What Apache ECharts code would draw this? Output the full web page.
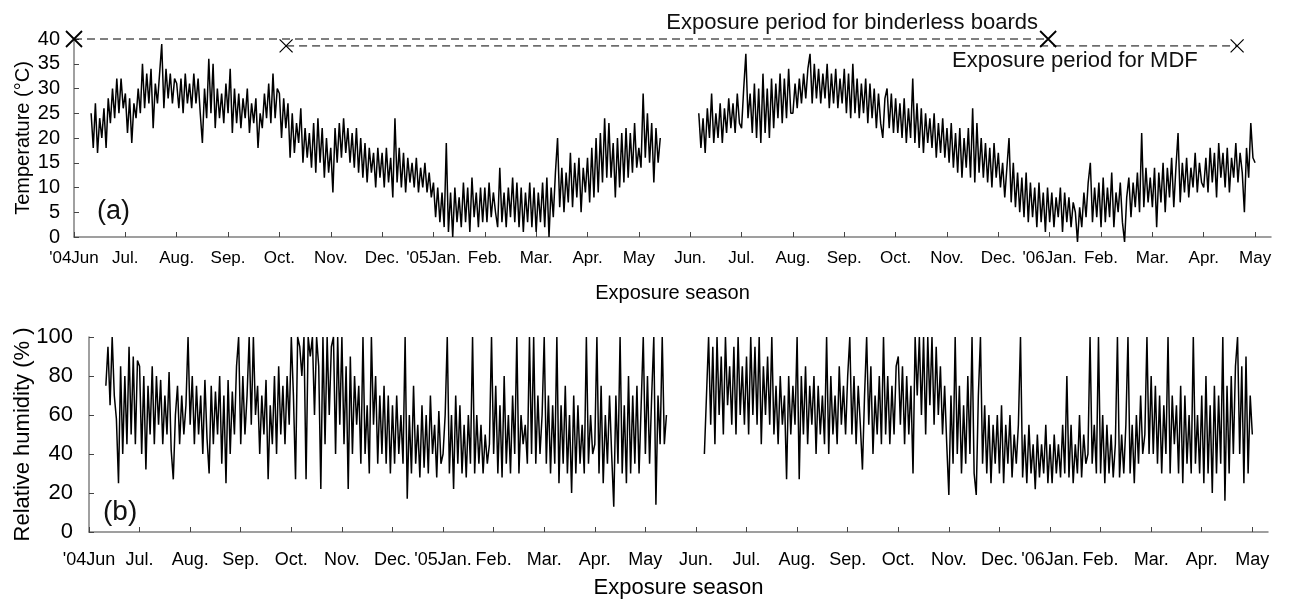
<!DOCTYPE html>
<html>
<head>
<meta charset="utf-8">
<script src="https://cdn.jsdelivr.net/npm/echarts@6/dist/echarts.min.js"></script>
<style>
html, body { margin: 0; padding: 0; background: #fff; }
#main { width: 1289px; height: 600px; }
</style>
</head>
<body>
<div id="main"></div>
<script>
// month tick labels, x = months since Jun 2004
var monthLabels = ["'04Jun", 'Jul.', 'Aug.', 'Sep.', 'Oct.', 'Nov.', 'Dec.', "'05Jan.", 'Feb.', 'Mar.', 'Apr.', 'May',
    'Jun.', 'Jul.', 'Aug.', 'Sep.', 'Oct.', 'Nov.', 'Dec.', "'06Jan.", 'Feb.', 'Mar.', 'Apr.', 'May'];
var monthTicks = monthLabels.map(function (l, i) { return i; });

// samples every 1/24 month
var stepsPerMonth = 24;
var seg1Start = 8;    // Jun 2004 + 8/24
var seg2Start = 292;  // Jun 2005 + 4/24

// temperature (°C)
var tempSeg1 = [
    25,18,27,17,24,20,26,18,28,23,30,24,32,25,32,26,                         // Jun 04
    29,21,28,19,27,24,30,25,35,26,33,27,34,22,31,27,33,39,26,34,28,33,27,32, // Jul
    31,26,32,25,33,27,31,26,33,27,32,25,19,30,24,36,25,35,22,30,24,29,23,31, // Aug
    25,34,21,30,23,29,22,28,24,30,21,27,23,28,18,25,22,29,24,31,23,33,24,30, // Sep
    29,20,28,22,27,16,25,17,23,19,26,15,22,16,21,14,23,13,24,15,22,12,20,13, // Oct
    18,9,22,15,23,16,24,17,22,15,21,14,22,13,20,12,19,11,18,13,17,10,18,12,  // Nov
    17,10,18,11,16,8,24,11,18,10,17,9,16,11,15,10,16,9,14,10,15,9,13,8,      // Dec
    11,4,10,3,9,2,19,1,9,0,10,3,8,2,11,3,10,1,12,4,9,2,10,3,                 // Jan 05
    10,3,11,4,9,5,2,14,3,9,2,10,4,12,3,11,2,10,1,9,3,11,2,10,                // Feb
    1,9,3,11,2,12,0,10,4,13,20,6,14,5,13,7,17,6,15,8,16,5,14,9,              // Mar
    16,7,18,8,20,9,21,11,24,12,23,12,19,8,20,10,21,11,22,12,21,13,23,14,     // Apr
    18,14,29,16,25,15,23,11,22,15,20                                         // May
];
var tempSeg2 = [
    25,18,24,17,26,20,29,19,25,20,27,19,26,21,28,22,27,21,29,23,             // Jun 05
    22,30,37,24,29,21,31,20,30,19,33,21,30,20,32,22,31,24,33,23,32,24,34,25, // Jul
    25,31,26,32,27,33,28,34,37,27,35,28,34,27,33,28,35,26,33,27,34,26,32,27, // Aug
    34,25,33,24,35,25,32,24,31,25,32,23,31,24,30,22,29,23,20,28,30,22,29,21, // Sep
    28,21,27,20,28,19,26,20,32,19,27,18,26,17,25,19,24,18,25,16,23,17,24,16, // Oct
    22,15,23,14,21,13,22,12,20,14,22,12,26,11,23,13,20,12,19,11,18,10,19,12, // Nov
    17,10,15,8,14,20,7,15,6,13,5,12,4,13,3,11,4,10,2,11,3,9,1,10,            // Dec
    3,9,2,8,4,10,1,9,3,8,2,7,5,-1,6,2,9,4,11,15,3,10,4,11,                   // Jan 06
    2,12,3,10,4,13,2,9,5,11,3,-1,8,12,4,11,6,13,5,21,6,14,7,12,              // Feb
    6,14,2,13,7,15,5,14,8,16,6,14,21,7,15,9,16,8,14,10,17,9,15,11,           // Mar
    10,16,9,18,11,17,8,19,12,17,10,18,9,16,12,19,11,17,13,5,18,12,23,16,     // Apr
    15                                                                       // May
];

// relative humidity (%)
var rhSeg1 = [
    75,95,65,100,70,58,25,85,40,80,45,95,50,90,45,88,                                 // Jun 04
    85,40,80,32,75,50,85,45,80,55,78,45,70,50,82,42,27,60,75,45,70,50,65,100,         // Jul
    55,80,45,75,50,70,40,78,48,30,75,45,72,50,80,35,70,25,78,40,72,50,85,100,         // Aug
    45,80,50,70,100,55,100,60,75,40,70,50,78,27,65,45,80,40,85,50,75,45,80,55,        // Sep
    100,70,27,100,95,80,100,27,100,90,100,60,100,85,22,100,45,100,60,95,100,40,100,55, // Oct
    100,45,85,22,90,40,80,55,75,35,100,40,65,30,100,55,80,35,70,40,75,35,70,30,       // Nov
    65,35,70,40,60,35,100,17,60,30,75,35,55,28,65,33,60,30,70,40,55,28,62,35,         // Dec
    40,60,100,30,60,22,70,35,65,30,55,28,60,35,100,30,60,35,55,30,50,35,45,100,       // Jan 05
    40,75,30,65,28,80,35,60,30,70,40,100,30,60,45,55,35,100,40,100,35,70,40,60,       // Feb
    100,35,70,30,65,35,100,25,65,35,75,30,60,20,70,30,65,35,55,30,100,35,60,40,       // Mar
    45,100,30,75,25,60,35,70,40,13,70,35,100,30,65,25,80,30,70,35,75,30,65,100,       // Apr
    40,80,35,70,100,14,70,45,100,45,60                                                // May
];
var rhSeg2 = [
    40,70,100,55,95,45,100,60,90,50,100,65,85,55,95,50,100,60,85,55,                  // Jun 05
    90,50,100,60,95,55,100,45,85,60,90,55,100,50,75,45,80,55,70,27,80,50,75,55,       // Jul
    100,27,80,50,85,45,75,55,80,40,75,50,70,45,100,40,80,50,70,45,85,55,75,50,        // Aug
    80,100,50,80,45,75,55,32,70,100,55,85,40,70,50,80,45,100,50,80,45,75,50,85,       // Sep
    90,55,85,45,80,50,75,30,100,70,100,60,100,50,100,65,100,55,95,60,85,50,75,45,     // Oct
    19,70,35,100,40,75,30,65,35,80,40,100,30,19,70,100,35,65,30,60,25,55,35,60,       // Nov
    30,65,25,55,35,60,28,50,35,55,100,28,50,25,55,30,45,22,50,28,45,30,55,25,         // Dec
    45,25,50,30,45,28,55,30,80,28,55,25,45,30,60,28,50,35,40,100,35,55,30,100,        // Jan 06
    30,60,25,55,30,50,28,45,100,28,50,30,55,100,30,55,25,60,35,70,40,50,100,40,       // Feb
    80,40,75,35,70,30,65,40,100,30,70,45,65,30,75,25,70,35,60,30,100,35,60,30,        // Mar
    70,25,80,30,65,20,75,30,70,35,100,16,75,30,80,40,85,100,40,85,25,90,30,70,        // Apr
    50                                                                                // May
];

// exposure periods [start month, end month], level in °C
var binderlessPeriod = [0, 18.97];
var binderlessLevel = 40;
var mdfPeriod = [4.13, 22.65];
var mdfLevel = 38.6;

function toPoints(values, start) {
    return values.map(function (v, i) { return [(start + i) / stepsPerMonth, v]; });
}

var font = 'Liberation Sans, Arial, sans-serif';
var crossPath = 'path://M0,0L10,10M10,0L0,10';

function makeXAxis(grid, o) {
    return {
        gridIndex: grid, type: 'value', min: 0, max: 23.31,
        name: 'Exposure season', nameLocation: 'middle', nameGap: o.nameGap,
        nameTextStyle: {color: '#000', fontSize: o.nameSize, fontFamily: font},
        axisLine: {lineStyle: {color: '#808080', width: 1.5}},
        axisTick: {inside: true, length: 5, customValues: monthTicks, lineStyle: {color: '#444'}},
        axisLabel: {
            customValues: monthTicks, margin: o.margin, color: '#000', fontSize: o.labelSize, fontFamily: font,
            formatter: function (v) { return monthLabels[Math.round(v)]; }
        },
        splitLine: {show: false}
    };
}

function makeYAxis(grid, o) {
    return {
        gridIndex: grid, type: 'value', min: 0, max: o.max, interval: o.interval,
        name: o.name, nameLocation: 'middle', nameGap: o.nameGap, nameMoveOverlap: false,
        nameTextStyle: {color: '#000', fontSize: o.nameSize, fontFamily: font},
        axisLine: {show: true, lineStyle: {color: '#808080', width: 1.5}},
        axisTick: {show: true, inside: true, length: 5, lineStyle: {color: '#444'}},
        axisLabel: {margin: o.margin, color: '#000', fontSize: o.labelSize, fontFamily: font},
        splitLine: {show: false}
    };
}

function dataLine(xi, yi, pts) {
    return {
        type: 'line', xAxisIndex: xi, yAxisIndex: yi, data: pts, symbol: 'none', clip: false,
        lineStyle: {color: '#000', width: 1.5}, silent: true
    };
}

function periodLine(range, level, size, bw) {
    return {
        type: 'line', xAxisIndex: 0, yAxisIndex: 0, clip: false, silent: true,
        data: [[range[0], level], [range[1], level]],
        symbol: crossPath, symbolSize: size,
        itemStyle: {color: 'none', borderColor: '#000', borderWidth: bw},
        lineStyle: {color: '#000', width: 1, type: [8, 5]}
    };
}

var chart = echarts.init(document.getElementById('main'));
var option = {
    animation: false,
    backgroundColor: '#fff',
    textStyle: {fontFamily: font},
    grid: [
        {left: 74, right: 18, top: 39, height: 198},
        {left: 89, right: 21, top: 337, height: 196}
    ],
    xAxis: [
        makeXAxis(0, {nameGap: 46, nameSize: 20, labelSize: 17, margin: 13}),
        makeXAxis(1, {nameGap: 45, nameSize: 22, labelSize: 18, margin: 19})
    ],
    yAxis: [
        makeYAxis(0, {max: 40, interval: 5, name: 'Temperature (°C)', nameGap: 41, nameSize: 20, labelSize: 20, margin: 14}),
        makeYAxis(1, {max: 100, interval: 20, name: 'Relative humidity (% )', nameGap: 55, nameSize: 22, labelSize: 22, margin: 16})
    ],
    series: [
        dataLine(0, 0, toPoints(tempSeg1, seg1Start)),
        dataLine(0, 0, toPoints(tempSeg2, seg2Start)),
        dataLine(1, 1, toPoints(rhSeg1, seg1Start)),
        dataLine(1, 1, toPoints(rhSeg2, seg2Start)),
        periodLine(binderlessPeriod, binderlessLevel, 16, 1.8),
        periodLine(mdfPeriod, mdfLevel, 13, 1.2)
    ],
    graphic: [
        {type: 'text', right: 1289 - 1038, top: 12, style: {text: 'Exposure period for binderless boards', fontSize: 22, fontFamily: font, fill: '#111'}},
        {type: 'text', left: 952, top: 50, style: {text: 'Exposure period for MDF', fontSize: 22, fontFamily: font, fill: '#111'}},
        {type: 'text', left: 97, top: 198, style: {text: '(a)', fontSize: 27, fontFamily: font, fill: '#111'}},
        {type: 'text', left: 103, top: 498, style: {text: '(b)', fontSize: 28, fontFamily: font, fill: '#111'}}
    ]
};
chart.setOption(option);
</script>
</body>
</html>
